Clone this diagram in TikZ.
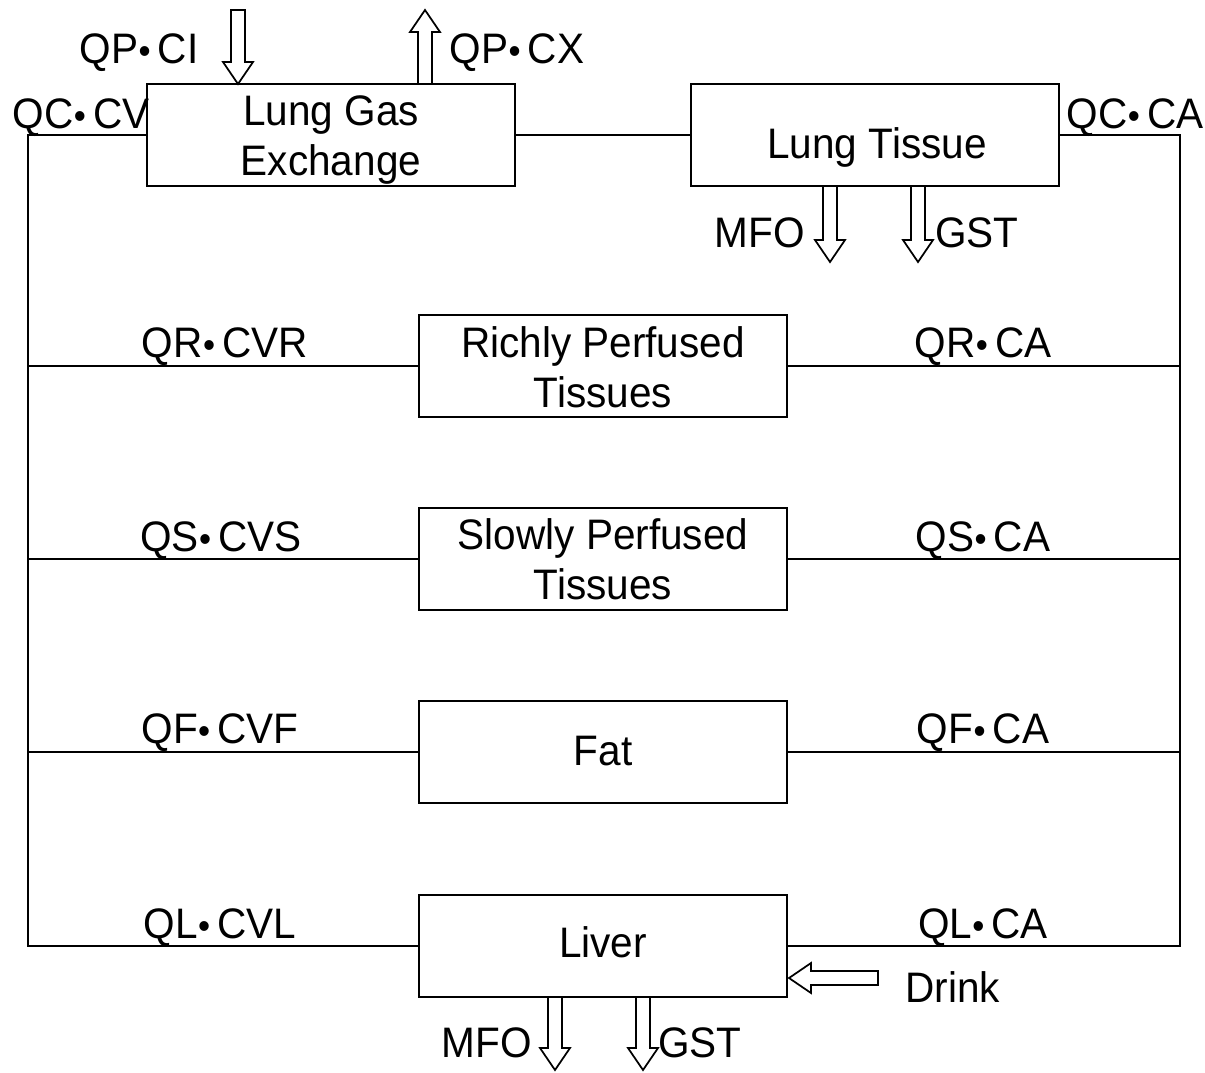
\documentclass[tikz,border=0pt]{standalone}
\usepackage{fontspec}
\usepackage{graphicx}
\setmainfont{Liberation Sans}[FakeStretch=0.95]
\newcommand\dt{\hspace{0.04em}\makebox[0.22em]{\scalebox{0.85}{•}}\hspace{0.2em}}
\newcommand\dnarrowbox[3]{% x, ytop, ybottom (tip)
  \draw[harrow] ({#1-7},#2) -- ({#1-7},{#3-22}) -- ({#1-15},{#3-22}) -- (#1,#3)
    -- ({#1+15},{#3-22}) -- ({#1+7},{#3-22}) -- ({#1+7},#2) -- cycle;}
\newcommand\uparrowbox[3]{% x, ybottom, ytop (tip)
  \draw[harrow] ({#1-7},#2) -- ({#1-7},{#3+22}) -- ({#1-15},{#3+22}) -- (#1,#3)
    -- ({#1+15},{#3+22}) -- ({#1+7},{#3+22}) -- ({#1+7},#2) -- cycle;}
\newcommand\ltarrowbox[3]{% y, xright, xtip
  \draw[harrow] (#2,{#1-7}) -- ({#3+22},{#1-7}) -- ({#3+22},{#1-15}) -- (#3,#1)
    -- ({#3+22},{#1+15}) -- ({#3+22},{#1+7}) -- (#2,{#1+7}) -- cycle;}
\begin{document}
\begin{tikzpicture}[x=0.75pt,y=-0.75pt,
  box/.style={draw, line width=1.5pt, minimum width=276pt, minimum height=76.5pt, inner sep=0pt},
  lbl/.style={anchor=base, inner sep=0pt, font=\fontsize{32}{38}\selectfont},
  flow/.style={line width=1.5pt},
  harrow/.style={line width=1.3pt, draw, fill=white}]
\useasboundingbox (0,0) rectangle (1205,1072);
% boxes
\node[box] (lge) at (331,135) {};
\node[box] (lt) at (875,135) {};
\node[box] (rich) at (603,365.5) {};
\node[box] (slow) at (603,559) {};
\node[box] (fat) at (603,751.5) {};
\node[box] (liver) at (603,946) {};
% box texts
\node[lbl] (lgeA) at (331,125) {Lung Gas};
\node[lbl] (lgeB) at (331,175) {Exchange};
\node[lbl] (ltT) at (877,158) {Lung Tissue};
\node[lbl] (richA) at (603,357) {Richly Perfused};
\node[lbl] (richB) at (603,407) {Tissues};
\node[lbl] (slowA) at (603,549) {Slowly Perfused};
\node[lbl] (slowB) at (603,599) {Tissues};
\node[lbl] (fatT) at (603,765) {Fat};
\node[lbl] (livT) at (603,957) {Liver};
% loop corners
\coordinate (lt0) at (28,135);
\coordinate (lb0) at (28,946);
\coordinate (rt0) at (1180,135);
\coordinate (rb0) at (1180,946);
% connectors
\draw[flow] (lge.east) -- (lt.west);
\draw[flow] (lge.west) -- (lt0) -- (lb0) -- (liver.west);
\draw[flow] (lt.east) -- (rt0) -- (rb0) -- (liver.east);
\foreach \n in {rich,slow,fat}{
  \draw[flow] (\n.west) -- (\n.west -| lt0);
  \draw[flow] (\n.east) -- (\n.east -| rt0);
}
% flow labels
\node[lbl] (qccv) at (81,128) {QC\dt CV};
\node[lbl] (qcca) at (1135,128) {QC\dt CA};
\node[lbl] (qpci) at (139,63) {QP\dt CI};
\node[lbl] (qpcx) at (517,63) {QP\dt CX};
\node[lbl] (qrcvr) at (225,357) {QR\dt CVR};
\node[lbl] (qrca) at (983,357) {QR\dt CA};
\node[lbl] (qscvs) at (221,551) {QS\dt CVS};
\node[lbl] (qsca) at (983,551) {QS\dt CA};
\node[lbl] (qfcvf) at (220,743) {QF\dt CVF};
\node[lbl] (qfca) at (983,743) {QF\dt CA};
\node[lbl] (qlcvl) at (220,938) {QL\dt CVL};
\node[lbl] (qlca) at (983,938) {QL\dt CA};
\node[lbl, anchor=base east] (mfo1) at (805,247) {MFO};
\node[lbl, anchor=base west] (gst1) at (935,247) {GST};
\node[lbl, anchor=base west] (drink) at (905,1002) {Drink};
\node[lbl, anchor=base east] (mfo2) at (532,1057) {MFO};
\node[lbl, anchor=base west] (gst2) at (658,1057) {GST};
% hollow arrows
\dnarrowbox{238}{10}{84}
\uparrowbox{425}{84}{10}
\dnarrowbox{830}{186}{262}
\dnarrowbox{918}{186}{262}
\dnarrowbox{555}{997}{1070}
\dnarrowbox{643}{997}{1070}
\ltarrowbox{978}{878}{789}
\end{tikzpicture}
\end{document}
